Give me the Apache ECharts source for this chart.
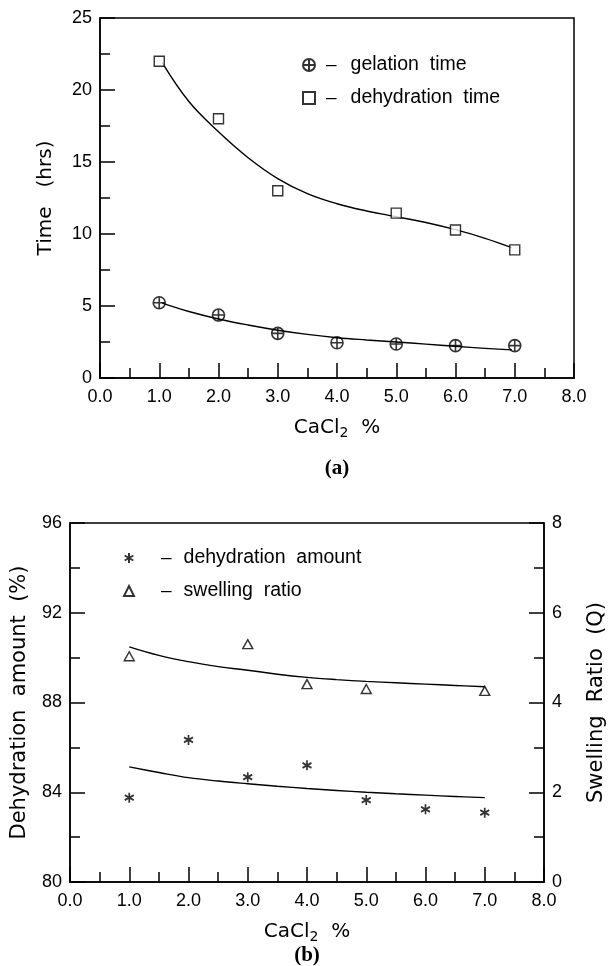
<!DOCTYPE html>
<html><head><meta charset="utf-8">
<script src="https://cdn.jsdelivr.net/npm/echarts@6/dist/echarts.min.js"></script>
<style>html,body{margin:0;padding:0;background:#fff}#c{width:610px;height:966px}</style>
</head><body><div id="c"></div>
<script>
// ---- Panel (a) data ----
const gelX = [1, 2, 3, 4, 5, 6, 7];
const gelationTime = [5.23, 4.37, 3.1, 2.45, 2.36, 2.25, 2.25];
const dehX = [1, 2, 3, 5, 6, 7];
const dehydrationTime = [22.0, 18.0, 13.0, 11.45, 10.28, 8.9];
const fitAX = [1.05, 1.5, 2, 2.5, 3, 3.5, 4, 4.5, 5, 5.5, 6, 6.5, 6.95];
const dehydrationTimeFit = [21.9, 19.2, 17.1, 15.3, 13.85, 12.8, 12.1, 11.6, 11.2, 10.8, 10.3, 9.7, 9.05];
const gelationTimeFit = [5.2, 4.62, 4.1, 3.68, 3.32, 3.03, 2.8, 2.64, 2.5, 2.35, 2.2, 2.06, 1.95];
const timeTicks = [0, 5, 10, 15, 20, 25];

// ---- Panel (b) data ----
const amtX = [1, 2, 3, 4, 5, 6, 7];
const dehydrationAmount = [83.76, 86.33, 84.67, 85.2, 83.65, 83.24, 83.09];
const swX = [1, 3, 4, 5, 7];
const swellingRatio = [5.03, 5.3, 4.41, 4.3, 4.26];
const fitBX = [1.0, 1.5, 2, 2.5, 3, 3.5, 4, 4.5, 5, 5.5, 6, 6.5, 7];
const dehydrationAmountFit = [85.13, 84.88, 84.65, 84.5, 84.38, 84.27, 84.17, 84.08, 84.0, 83.93, 83.87, 83.81, 83.76];
const swellingRatioFit = [5.24, 5.05, 4.91, 4.8, 4.72, 4.63, 4.56, 4.51, 4.47, 4.44, 4.41, 4.38, 4.35];
const xTickLabels = ['0.0', '1.0', '2.0', '3.0', '4.0', '5.0', '6.0', '7.0', '8.0'];

const F = '"Liberation Sans", Arial, sans-serif';
const FN = '"DejaVu Sans", "Liberation Sans", sans-serif';
const BLACK = '#000';
const zip = (xs, ys) => xs.map((x, i) => [x, ys[i]]);

const SYM_CIRCLECROSS = 'path://M10,0A10,10,0,1,1,-10,0A10,10,0,1,1,10,0ZM0,-10L0,10M-10,0L10,0';
const SYM_ASTERISK = 'path://M0,-10L0,10M-8.66,-5L8.66,5M-8.66,5L8.66,-5';

function axisCommon(extra) {
  return Object.assign({
    type: 'value',
    axisLine: { show: true, onZero: false, lineStyle: { color: BLACK, width: 1.5 } },
    axisTick: { show: true, inside: true, length: 15, lineStyle: { color: BLACK, width: 1.5 } },
    minorTick: { show: true, splitNumber: 2, length: 10, lineStyle: { color: BLACK, width: 1.5 } },
    splitLine: { show: false },
    minorSplitLine: { show: false },
    axisLabel: { color: BLACK, fontSize: 18, fontFamily: F, margin: 8, showMinLabel: true, showMaxLabel: true },
    nameLocation: 'middle',
    nameTextStyle: { color: BLACK, fontSize: 20, fontFamily: FN,
      rich: { s: { fontSize: 14, fontFamily: FN, color: BLACK, padding: [11, 0, 0, 0] } } }
  }, extra);
}

const xLabelFmt = v => xTickLabels[Math.round(v)];
const xLabelStyle = { color: BLACK, fontSize: 18, fontFamily: F, margin: 10, formatter: xLabelFmt };
const bigName = { color: BLACK, fontSize: 21, fontFamily: FN };

const legendRich = (dashPad, textPad) => ({
  color: BLACK, fontSize: 19, fontFamily: F,
  rich: {
    d: { fontSize: 19, fontFamily: F, color: BLACK, padding: [0, 0, 0, dashPad] },
    t: { fontSize: 19.5, fontFamily: F, color: BLACK, padding: [0, 0, 0, textPad] }
  }
});

const option = {
  animation: false,
  backgroundColor: '#fff',
  grid: [
    { left: 100, top: 18, width: 474, height: 360, show: true, borderColor: BLACK, borderWidth: 1.5,
      containLabel: false, outerBoundsMode: 'none' },
    { left: 70, top: 523, width: 474, height: 359, show: true, borderColor: BLACK, borderWidth: 1.5,
      containLabel: false, outerBoundsMode: 'none' }
  ],
  xAxis: [
    axisCommon({ gridIndex: 0, min: 0, max: 8, interval: 1, axisLabel: xLabelStyle,
      name: 'CaCl{s|2}  %', nameGap: 37 }),
    axisCommon({ gridIndex: 1, min: 0, max: 8, interval: 1, axisLabel: xLabelStyle,
      name: 'CaCl{s|2}  %', nameGap: 37 })
  ],
  yAxis: [
    axisCommon({ gridIndex: 0, min: timeTicks[0], max: timeTicks[timeTicks.length - 1], interval: 5,
      name: 'Time   (hrs)', nameGap: 44 }),
    axisCommon({ gridIndex: 1, min: 80, max: 96, interval: 4, position: 'left',
      name: 'Dehydration  amount  (%)', nameGap: 40, nameTextStyle: bigName }),
    axisCommon({ gridIndex: 1, min: 0, max: 8, interval: 2, position: 'right',
      name: 'Swelling  Ratio  (Q)', nameGap: 42, nameTextStyle: bigName })
  ],
  legend: [
    { orient: 'vertical', left: 297, top: 50, itemGap: 13, itemWidth: 12, itemHeight: 12,
      data: ['gelation time', 'dehydration time'],
      formatter: n => '{d|–}{t|' + n.replace(' ', '  ') + '}',
      textStyle: legendRich(6, 14) },
    { orient: 'vertical', left: 118, top: 543, itemGap: 13, itemWidth: 10, itemHeight: 10,
      data: ['dehydration amount', 'swelling ratio'],
      formatter: n => '{d|–}{t|' + n.replace(' ', '  ') + '}',
      textStyle: legendRich(22, 12) }
  ],
  series: [
    { type: 'line', name: 'fitA1', xAxisIndex: 0, yAxisIndex: 0, data: zip(fitAX, dehydrationTimeFit),
      showSymbol: false, symbol: 'none', smooth: 0.4, lineStyle: { color: BLACK, width: 1.4 }, z: 1 },
    { type: 'line', name: 'fitA2', xAxisIndex: 0, yAxisIndex: 0, data: zip(fitAX, gelationTimeFit),
      showSymbol: false, symbol: 'none', smooth: 0.4, lineStyle: { color: BLACK, width: 1.4 }, z: 1 },
    { type: 'scatter', name: 'gelation time', xAxisIndex: 0, yAxisIndex: 0, data: zip(gelX, gelationTime),
      symbol: SYM_CIRCLECROSS, symbolSize: 12,
      itemStyle: { color: 'rgba(255,255,255,0)', borderColor: BLACK, borderWidth: 1.6 }, z: 3 },
    { type: 'scatter', name: 'dehydration time', xAxisIndex: 0, yAxisIndex: 0, data: zip(dehX, dehydrationTime),
      symbol: 'rect', symbolSize: 10,
      itemStyle: { color: '#fff', borderColor: BLACK, borderWidth: 1.4 }, z: 3 },

    { type: 'line', name: 'fitB1', xAxisIndex: 1, yAxisIndex: 1, data: zip(fitBX, dehydrationAmountFit),
      showSymbol: false, symbol: 'none', smooth: 0.4, lineStyle: { color: BLACK, width: 1.4 }, z: 1 },
    { type: 'line', name: 'fitB2', xAxisIndex: 1, yAxisIndex: 2, data: zip(fitBX, swellingRatioFit),
      showSymbol: false, symbol: 'none', smooth: 0.4, lineStyle: { color: BLACK, width: 1.4 }, z: 1 },
    { type: 'scatter', name: 'dehydration amount', xAxisIndex: 1, yAxisIndex: 1, data: zip(amtX, dehydrationAmount),
      symbol: SYM_ASTERISK, symbolSize: [9, 10],
      itemStyle: { color: 'rgba(255,255,255,0)', borderColor: BLACK, borderWidth: 1.8 }, z: 3 },
    { type: 'scatter', name: 'swelling ratio', xAxisIndex: 1, yAxisIndex: 2, data: zip(swX, swellingRatio),
      symbol: 'triangle', symbolSize: [10, 9],
      itemStyle: { color: '#fff', borderColor: BLACK, borderWidth: 1.4 }, z: 3 }
  ],
  graphic: [
    { type: 'text', x: 337, y: 469, style: { text: '(a)', align: 'center', verticalAlign: 'middle',
      font: 'bold 21px "Liberation Serif", serif', fill: BLACK } },
    { type: 'text', x: 307, y: 956, style: { text: '(b)', align: 'center', verticalAlign: 'middle',
      font: 'bold 21px "Liberation Serif", serif', fill: BLACK } }
  ]
};
const chart = echarts.init(document.getElementById('c'), null, { renderer: 'canvas' });
chart.setOption(option);
</script>
</body></html>
